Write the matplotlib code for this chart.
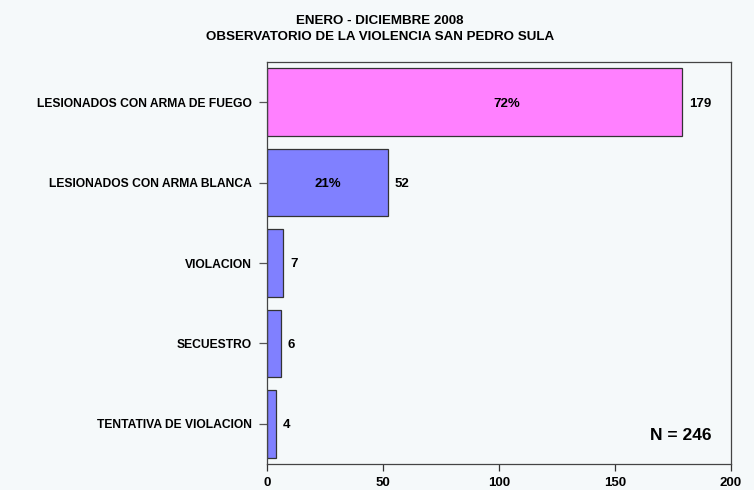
import matplotlib
matplotlib.use("Agg")
import matplotlib.pyplot as plt

categories = [
    "LESIONADOS CON ARMA DE FUEGO",
    "LESIONADOS CON ARMA BLANCA",
    "VIOLACION",
    "SECUESTRO",
    "TENTATIVA DE VIOLACION",
]
values = [179, 52, 7, 6, 4]
percent_labels = ["72%", "21%", "", "", ""]
total_label = "N = 246"
x_ticks = [0, 50, 100, 150, 200]
title_lines = ["ENERO - DICIEMBRE 2008", "OBSERVATORIO DE LA VIOLENCIA SAN PEDRO SULA"]

bg = "#F5F9FA"
bar_colors = ["#FF80FF", "#8080FF", "#8080FF", "#8080FF", "#8080FF"]
pct_pos = [0.578, 0.5, 0.5, 0.5, 0.5]  # fraction of bar length for the percent text

plt.rcParams["font.family"] = ["Liberation Sans", "DejaVu Sans"]
plt.rcParams["font.weight"] = "bold"

fig = plt.figure(figsize=(7.54, 4.90), dpi=100, facecolor=bg)
ax = fig.add_axes([267 / 754, 1 - 464 / 490, (731 - 267) / 754, (464 - 62) / 490])
ax.set_facecolor(bg)

ypos = list(range(len(categories)))
ax.barh(ypos, values, height=0.84, color=bar_colors, edgecolor="#333333", linewidth=0.9)

for y, v, p, f in zip(ypos, values, percent_labels, pct_pos):
    ax.annotate(str(v), (v, y), xytext=(5, -1), textcoords="offset points",
                va="center", ha="left", fontsize=9.5, fontweight="bold")
    if p:
        ax.annotate(p, (v * f, y), xytext=(0, -1), textcoords="offset points",
                    va="center", ha="center", fontsize=9.5, fontweight="bold")

ax.set_xlim(0, 200)
ax.set_ylim(len(categories) - 0.5, -0.5)
ax.set_yticks(ypos)
ax.set_yticklabels(categories, fontsize=8.7, fontweight="bold")
ax.set_xticks(x_ticks)
ax.set_xticklabels([str(t) for t in x_ticks], fontsize=9.5, fontweight="bold")
ax.tick_params(axis="y", length=6, width=0.9, color="#555555", pad=5)
ax.tick_params(axis="x", length=5, width=0.9, color="#333333", pad=4.5)

for s in ax.spines.values():
    s.set_color("#444444")
    s.set_linewidth(0.9)

ax.text(0.957, 0.07, total_label, transform=ax.transAxes, ha="right", va="center",
        fontsize=12.5, fontweight="bold")

fig.text(380 / 754, 1 - 20.5 / 490, title_lines[0], ha="center", va="center",
         fontsize=9.6, fontweight="bold")
fig.text(380 / 754, 1 - 36.5 / 490, title_lines[1], ha="center", va="center",
         fontsize=9.6, fontweight="bold")

fig.savefig("out.png", dpi=100, facecolor=bg)
